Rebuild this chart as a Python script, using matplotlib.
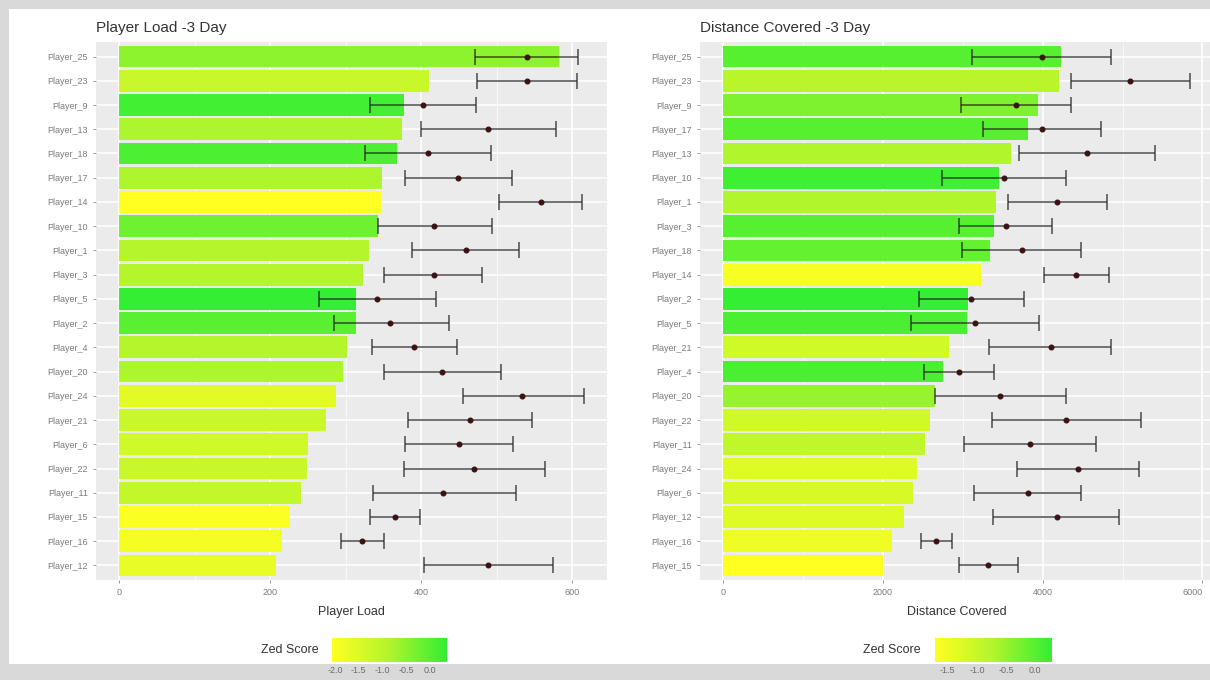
import matplotlib
matplotlib.use("Agg")
import matplotlib.pyplot as plt
import numpy as np
from matplotlib.colors import LinearSegmentedColormap, Normalize
from matplotlib.patches import Rectangle

plt.rcParams['font.family'] = ['Liberation Sans', 'DejaVu Sans']

# ---- Player Load (top to bottom) ----
load_players = ['Player_25', 'Player_23', 'Player_9', 'Player_13', 'Player_18', 'Player_17',
                'Player_14', 'Player_10', 'Player_1', 'Player_3', 'Player_5', 'Player_2',
                'Player_4', 'Player_20', 'Player_24', 'Player_21', 'Player_6', 'Player_22',
                'Player_11', 'Player_15', 'Player_16', 'Player_12']
load_value = [582, 410, 377, 375, 368, 348, 346, 342, 331, 323, 313, 313,
              301, 296, 287, 274, 250, 248, 241, 226, 215, 208]
load_mean = [540, 540, 402, 488, 409, 449, 558, 417, 459, 417, 341, 359,
             390, 428, 534, 464, 450, 470, 429, 365, 322, 488]
load_lo = [471, 474, 332, 400, 326, 378, 503, 342, 387, 351, 264, 284,
           334, 350, 455, 383, 378, 377, 336, 332, 293, 404]
load_hi = [607, 606, 472, 578, 492, 520, 613, 493, 530, 481, 419, 437,
           447, 506, 615, 546, 521, 564, 525, 398, 350, 574]
load_z = [-0.5, -1.2, 0.2, -0.8, 0.1, -0.8, -2.06, -0.2, -0.9, -0.9, 0.35, 0.0,
          -0.9, -0.8, -1.6, -1.2, -1.3, -1.2, -1.1, -2.0, -1.9, -1.7]

# ---- Distance Covered (top to bottom) ----
dist_players = ['Player_25', 'Player_23', 'Player_9', 'Player_17', 'Player_13', 'Player_10',
                'Player_1', 'Player_3', 'Player_18', 'Player_14', 'Player_2', 'Player_5',
                'Player_21', 'Player_4', 'Player_20', 'Player_22', 'Player_11', 'Player_24',
                'Player_6', 'Player_12', 'Player_16', 'Player_15']
dist_value = [4225, 4200, 3940, 3810, 3600, 3450, 3420, 3390, 3340, 3230, 3070, 3050,
              2820, 2750, 2650, 2590, 2525, 2420, 2370, 2260, 2110, 2000]
dist_mean = [3985, 5090, 3660, 3990, 4560, 3510, 4180, 3535, 3740, 4420, 3100, 3150,
             4100, 2950, 3460, 4295, 3845, 4440, 3810, 4180, 2660, 3315]
dist_lo = [3110, 4350, 2975, 3255, 3700, 2740, 3565, 2955, 2990, 4010, 2455, 2350,
           3330, 2510, 2650, 3360, 3015, 3680, 3140, 3380, 2470, 2950]
dist_hi = [4850, 5840, 4360, 4725, 5410, 4285, 4810, 4120, 4485, 4835, 3760, 3950,
           4850, 3390, 4285, 5235, 4670, 5205, 4485, 4960, 2860, 3690]
dist_z = [0.0, -0.8, -0.3, 0.0, -0.7, 0.2, -0.7, 0.0, -0.1, -1.6, 0.29, 0.1,
          -1.1, 0.1, -0.5, -1.1, -0.9, -1.3, -1.2, -1.3, -1.5, -1.72]

W, H = 1210, 680
cmap = LinearSegmentedColormap.from_list('zed', ['#ffff22', '#b2f52c', '#33ee33'])


def box(x0, y0, x1, y1):
    return [x0 / W, 1 - y1 / H, (x1 - x0) / W, (y1 - y0) / H]


fig = plt.figure(figsize=(W / 100, H / 100), dpi=100, facecolor='#d9d9d9')
fig.patches.append(Rectangle((9 / W, 1 - 664 / H), 1, (664 - 9) / H,
                             transform=fig.transFigure, facecolor='white',
                             edgecolor='none', zorder=-1))


def panel(rect, players, value, mean, lo, hi, z, zmin, zmax, xlim, ticks, minor,
          title, xlabel, cbar_rect, cbar_ticks):
    ax = fig.add_axes(box(*rect))
    ax.set_facecolor('#ebebeb')
    norm = Normalize(zmin, zmax)
    y = np.arange(len(players))
    ax.barh(y, value, height=0.9, color=cmap(norm(np.array(z))), zorder=2)
    mean = np.array(mean)
    ax.errorbar(mean, y, xerr=[mean - np.array(lo), np.array(hi) - mean], fmt='none',
                ecolor='#222222', elinewidth=1.1, capsize=5.5, capthick=1.1, alpha=0.8, zorder=3)
    ax.scatter(mean, y, s=11, color='#3a1414', zorder=4)
    ax.set_yticks(y)
    ax.set_yticklabels(players)
    ax.set_ylim(len(players) - 0.4, -0.6)
    ax.set_xlim(*xlim)
    ax.set_xticks(ticks)
    ax.set_xticks(minor, minor=True)
    ax.grid(True, which='major', color='white', linewidth=1.1, zorder=0)
    ax.grid(True, which='minor', axis='x', color='white', linewidth=0.5, zorder=0)
    ax.set_axisbelow(True)
    for s in ax.spines.values():
        s.set_visible(False)
    ax.tick_params(axis='both', which='major', labelsize=6.5, colors='#8a8a8a',
                   labelcolor='#7a7a7a', length=2.5, width=0.6)
    ax.tick_params(axis='x', which='minor', length=0)
    ax.set_title(title, loc='left', fontsize=11, color='#333333', pad=7, x=0.0)
    ax.set_xlabel(xlabel, fontsize=9, color='#333333', labelpad=6)
    # legend colorbar
    cax = fig.add_axes(box(*cbar_rect))
    grad = np.linspace(zmin, zmax, 200).reshape(1, -1)
    cax.imshow(grad, aspect='auto', cmap=cmap, norm=norm,
               extent=[zmin, zmax, 0, 1])
    cax.set_xlim(zmin, zmax)
    cax.set_yticks([])
    cax.set_xticks(cbar_ticks)
    cax.set_xticklabels(['%.1f' % t for t in cbar_ticks])
    cax.tick_params(axis='x', labelsize=6.5, labelcolor='#6a6a6a', length=0, pad=3)
    for s in cax.spines.values():
        s.set_visible(False)
    cax.text(-0.12, 0.5, 'Zed Score', transform=cax.transAxes, ha='right', va='center',
             fontsize=9, color='#333333')
    return ax


panel((96, 42, 607, 580), load_players, load_value, load_mean, load_lo, load_hi, load_z,
      -2.06, 0.35, (-31, 646), [0, 200, 400, 600], [100, 300, 500],
      'Player Load -3 Day', 'Player Load', (332, 638, 447, 662),
      [-2.0, -1.5, -1.0, -0.5, 0.0])

ax2 = panel((700, 42, 1213, 580), dist_players, dist_value, dist_mean, dist_lo, dist_hi, dist_z,
            -1.72, 0.29, (-292, 6132), [0, 2000, 4000, 6000], [1000, 3000, 5000],
            'Distance Covered -3 Day', 'Distance Covered', (935, 638, 1052, 662),
            [-1.5, -1.0, -0.5, 0.0])
# the last tick label sits at the right edge of the screenshot
ax2.get_xticklabels()[-1].set_horizontalalignment('right')

fig.savefig('out.png', dpi=100, facecolor=fig.get_facecolor())
